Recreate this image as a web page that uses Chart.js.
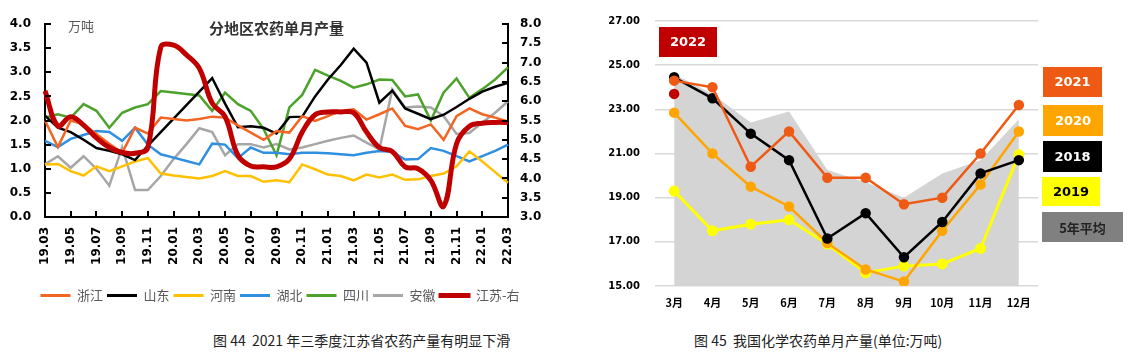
<!DOCTYPE html>
<html><head><meta charset="utf-8">
<script src="https://cdn.jsdelivr.net/npm/chart.js@4.4.0/dist/chart.umd.min.js"></script>
<style>
html,body{margin:0;padding:0;background:#fff;width:1133px;height:357px;overflow:hidden;position:relative;}
#c1{position:absolute;left:0;top:0;}
#c2{position:absolute;left:580px;top:0;}
.cap{position:absolute;top:331px;font-family:"Noto Sans CJK SC";font-size:14px;color:#222;white-space:nowrap;line-height:18px;}
</style></head><body>
<canvas id="c1" width="560" height="312"></canvas>
<canvas id="c2" width="553" height="320"></canvas>
<div class="cap" style="left:213px">图 44&nbsp; 2021 年三季度江苏省农药产量有明显下滑</div>
<div class="cap" style="left:694px">图 45&nbsp; 我国化学农药单月产量(单位:万吨)</div>
<script>
// ---------- Chart 1 data ----------
const months = ["19.03","19.04","19.05","19.06","19.07","19.08","19.09","19.10","19.11","19.12",
  "20.01","20.02","20.03","20.04","20.05","20.06","20.07","20.08","20.09","20.10","20.11","20.12",
  "21.01","21.02","21.03","21.04","21.05","21.06","21.07","21.08","21.09","21.10","21.11","21.12",
  "22.01","22.02","22.03"];
const zhejiang = [2.0,1.45,2.0,1.92,1.72,1.52,1.33,1.85,1.73,2.06,2.03,2.0,2.03,2.08,2.06,1.9,1.75,1.6,1.78,1.75,2.09,1.99,2.09,2.2,2.23,2.02,2.13,2.25,1.89,1.82,1.92,1.6,2.09,2.25,2.13,2.06,1.98];
const shandong = [2.1,1.85,1.76,1.6,1.43,1.37,1.3,1.18,1.48,1.76,2.04,2.32,2.6,2.88,2.35,1.86,1.88,1.85,1.73,2.07,2.08,2.5,2.85,3.15,3.49,3.2,2.37,2.62,2.25,2.14,2.03,2.12,2.28,2.45,2.6,2.7,2.78];
const henan = [1.09,1.1,0.95,0.86,1.05,0.95,1.05,1.15,1.22,0.9,0.86,0.83,0.8,0.85,0.95,0.85,0.85,0.73,0.76,0.72,1.09,0.99,0.88,0.85,0.76,0.88,0.82,0.88,0.77,0.78,0.85,0.9,1.05,1.36,1.15,0.93,0.71];
const hubei = [1.58,1.45,1.62,1.7,1.78,1.76,1.58,1.85,1.5,1.3,1.23,1.16,1.09,1.52,1.5,1.22,1.44,1.33,1.33,1.3,1.33,1.33,1.32,1.3,1.28,1.33,1.37,1.35,1.19,1.2,1.43,1.37,1.26,1.15,1.26,1.37,1.5];
const sichuan = [2.06,2.13,2.06,2.34,2.2,1.85,2.16,2.27,2.34,2.61,2.58,2.55,2.52,2.2,2.58,2.34,2.2,1.82,1.28,2.27,2.53,3.05,2.93,2.82,2.68,2.75,2.85,2.84,2.5,2.54,2.0,2.58,2.87,2.47,2.65,2.85,3.1];
const anhui = [1.09,1.26,1.02,1.26,1.0,0.65,1.45,0.56,0.56,0.85,1.2,1.51,1.84,1.76,1.28,1.51,1.51,1.44,1.51,1.4,1.44,1.51,1.58,1.64,1.69,1.54,1.4,2.64,2.27,2.29,2.27,2.09,1.72,1.74,1.96,2.16,2.4];
const jiangsu = [6.27,5.36,5.6,5.38,5.05,4.8,4.67,4.65,4.8,7.4,7.45,7.2,6.85,5.95,5.6,4.6,4.32,4.3,4.3,4.5,5.2,5.65,5.72,5.72,5.7,5.2,4.8,4.7,4.3,4.25,3.95,3.28,4.9,5.35,5.43,5.45,5.45];

// ---------- Chart 2 data ----------
const months2 = ["3月","4月","5月","6月","7月","8月","9月","10月","11月","12月"];
const y2022 = [23.7,null,null,null,null,null,null,null,null,null];
const y2021 = [24.3,24.0,20.4,22.0,19.9,19.9,18.7,19.0,21.0,23.2];
const y2020 = [22.85,21.0,19.5,18.6,16.95,15.75,15.2,17.5,19.6,22.0];
const y2018 = [24.45,23.5,21.9,20.7,17.15,18.3,16.3,17.9,20.1,20.7];
const y2019 = [19.3,17.5,17.8,18.0,16.9,15.6,15.9,16.0,16.7,20.95];
const avg5 = [24.6,23.7,22.4,22.9,20.25,19.7,19.0,20.1,20.7,22.55];

const boldNum = {family:'DejaVu Sans', weight:'bold', size:12};

// inward tick marks for chart 1
const innerTicks = {
  id:'innerTicks',
  afterDraw(chart){
    const {ctx, chartArea:a} = chart; const {x, y, y2} = chart.scales;
    ctx.save(); ctx.strokeStyle='#000'; ctx.lineWidth=2;
    ctx.beginPath();
    y.ticks.forEach((t,i)=>{const p=Math.round(y.getPixelForTick(i)); ctx.moveTo(a.left,p); ctx.lineTo(a.left+6,p);});
    y2.ticks.forEach((t,i)=>{const p=Math.round(y2.getPixelForTick(i)); ctx.moveTo(a.right,p); ctx.lineTo(a.right-6,p);});
    x.ticks.forEach((t,i)=>{ if(i%2===0){const p=Math.round(x.getPixelForTick(i)); ctx.moveTo(p,a.bottom); ctx.lineTo(p,a.bottom-6);} });
    ctx.stroke(); ctx.restore();
  }
};
const titles1 = {
  id:'titles1',
  afterDraw(chart){
    const {ctx, chartArea:a} = chart;
    ctx.save();
    ctx.fillStyle='#333'; ctx.font='bold 15px "Noto Sans CJK SC"'; ctx.textAlign='center'; ctx.textBaseline='middle';
    ctx.fillText('分地区农药单月产量', (a.left+a.right)/2, a.top+4);
    ctx.fillStyle='#595959'; ctx.font='13px "Noto Sans CJK SC"'; ctx.textAlign='left';
    ctx.fillText('万吨', a.left+23, a.top+2);
    ctx.restore();
  }
};

const mk = (label, data, color, extra) => Object.assign({label, data, borderColor:color, backgroundColor:color, borderWidth:2.5, pointRadius:0, tension:0, yAxisID:'y'}, extra||{});

new Chart(document.getElementById('c1'), {
  type:'line',
  data:{labels:months, datasets:[
    mk('浙江', zhejiang, '#F26522'),
    mk('山东', shandong, '#000000'),
    mk('河南', henan, '#FFC000'),
    mk('湖北', hubei, '#2F8FE0'),
    mk('四川', sichuan, '#4CA22A'),
    mk('安徽', anhui, '#A6A6A6'),
    mk('江苏-右', jiangsu, '#C00000', {borderWidth:5, tension:0.4, yAxisID:'y2', order:-1})
  ]},
  options:{
    responsive:false, animation:false, devicePixelRatio:1,
    layout:{padding:{top:24,left:0,right:0,bottom:0}},
    plugins:{
      tooltip:{enabled:false},
      legend:{position:'bottom', labels:{boxWidth:30, boxHeight:3, padding:4, color:'#595959',
        font:{size:13, family:'Noto Sans CJK SC'},
        generateLabels(chart){ return chart.data.datasets.map((d,i)=>({text:d.label, fillStyle:d.borderColor, strokeStyle:d.borderColor, lineWidth:d.borderWidth>3?2:0, hidden:false, datasetIndex:i, fontColor:'#595959'})); }
      }}
    },
    scales:{
      x:{offset:false, grid:{display:false, drawTicks:false}, border:{color:'#000', width:2},
         ticks:{autoSkip:false, maxRotation:90, minRotation:90, padding:10, color:'#000', font:boldNum,
           callback:(v,i)=> i%2===0 ? months[i] : ''},
         afterFit(s){ s.height=68; }},
      y:{position:'left', min:0, max:4, grid:{display:false, drawTicks:false}, border:{color:'#000', width:2},
         ticks:{stepSize:0.5, padding:14, color:'#000', font:boldNum, callback:v=>v.toFixed(1)},
         afterFit(s){ s.width=45; }},
      y2:{position:'right', min:3, max:8, grid:{display:false, drawTicks:false}, border:{color:'#000', width:2},
         ticks:{stepSize:0.5, padding:12, color:'#000', font:boldNum, callback:v=>v.toFixed(1)},
         afterFit(s){ s.width=52; }}
    }
  },
  plugins:[innerTicks, titles1]
});

// ---------- Chart 2 ----------
const boxPos = {
  '2022':{x:79,y:27,w:58,h:30,tc:'#fff'},
  '2021':{x:463,y:67,w:59,h:30,tc:'#fff'},
  '2020':{x:463,y:105,w:60,h:31,tc:'#fff'},
  '2018':{x:463,y:141,w:59,h:31,tc:'#fff'},
  '2019':{x:462,y:177,w:58,h:29,tc:'#000'},
  '5年平均':{x:462,y:212,w:81,h:30,tc:'#222',fill:'#808080'}
};
const boxes = {
  id:'boxes',
  afterDraw(chart){
    const ctx = chart.ctx; ctx.save();
    chart.data.datasets.forEach(d=>{
      const b = boxPos[d.label]; if(!b) return;
      ctx.fillStyle = b.fill || d.borderColor;
      ctx.fillRect(b.x,b.y,b.w,b.h);
      ctx.fillStyle = b.tc; ctx.textAlign='center'; ctx.textBaseline='middle';
      ctx.font = /\d{4}/.test(d.label) ? 'bold 13px "DejaVu Sans"' : 'bold 13px "Noto Sans CJK SC"';
      ctx.fillText(d.label, b.x+b.w/2, b.y+b.h/2+1);
    });
    ctx.restore();
  }
};
const mk2 = (label, data, color, order, extra) => Object.assign({label, data, borderColor:color, backgroundColor:color, pointBackgroundColor:color, pointBorderColor:color, borderWidth:2.5, pointRadius:4, tension:0, order}, extra||{});

new Chart(document.getElementById('c2'), {
  type:'line',
  data:{labels:months2, datasets:[
    mk2('2022', y2022, '#C00000', 0, {showLine:false}),
    mk2('2021', y2021, '#EE5A14', 1),
    mk2('2020', y2020, '#FFA500', 3),
    mk2('2018', y2018, '#000000', 2),
    mk2('2019', y2019, '#FFFF00', 4, {borderWidth:3}),
    {label:'5年平均', data:avg5, borderColor:'#D4D4D4', backgroundColor:'#D4D4D4', borderWidth:0, pointRadius:0, fill:'start', tension:0, order:9}
  ]},
  options:{
    responsive:false, animation:false, devicePixelRatio:1,
    layout:{padding:{top:14,left:0,right:95,bottom:0}},
    plugins:{legend:{display:false}, tooltip:{enabled:false}},
    scales:{
      x:{offset:true, grid:{display:false, drawTicks:false}, border:{display:false},
         ticks:{padding:10, color:'#000', font:{family:'Noto Sans CJK SC', weight:'bold', size:11}},
         afterFit(s){ s.height=34; }},
      y:{min:15, max:27, grid:{color:'#D9D9D9', lineWidth:1.5, drawTicks:false}, border:{display:false},
         ticks:{stepSize:2, padding:15, color:'#000', font:{family:'DejaVu Sans', weight:'bold', size:10}, callback:v=>v.toFixed(2)},
         afterFit(s){ s.width=75; }}
    }
  },
  plugins:[boxes]
});
</script>
</body></html>
